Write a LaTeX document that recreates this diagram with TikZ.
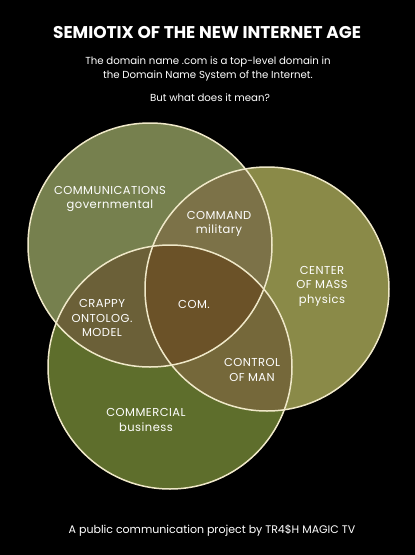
\documentclass[tikz,border=0pt]{standalone}
\usepackage{fontspec}
\setmainfont{Poppins}
\newfontfamily\spacedcaps[LetterSpace=4]{Poppins}
\usetikzlibrary{positioning}
\definecolor{govgreen}{HTML}{76804E}
\definecolor{massolive}{HTML}{8A8A48}
\definecolor{bizgreen}{HTML}{5E6E2C}
\definecolor{cmdbrown}{HTML}{7C7248}
\definecolor{manbrown}{HTML}{75683A}
\definecolor{crapbrown}{HTML}{6B6038}
\definecolor{combrown}{HTML}{6B5228}
\definecolor{ringcream}{HTML}{EFE8C8}
\tikzset{
	vennlabel/.style={
		text=white,
		align=center,
		inner sep=0pt,
		font=\spacedcaps\fontsize{11.5}{14.5}\selectfont},
	headline/.style={
		text=white,
		inner sep=0pt,
		font=\fontsize{17}{20}\selectfont\bfseries},
	blurb/.style={
		text=white,
		align=center,
		inner sep=0pt,
		font=\fontsize{10.2}{14}\selectfont},
	ring/.style={draw=ringcream, line width=1.5pt},
}
\begin{document}
\begin{tikzpicture}[x=1pt,y=-1pt]
	\fill[black] (0,0) rectangle (415,555);
	\useasboundingbox (0,0) rectangle (415,555);
	\coordinate (govc) at (150,245);
	\coordinate (massc) at (267,289);
	\coordinate (bizc) at (170,367);
	% the three sets
	\fill[govgreen] (govc) circle (122);
	\fill[massolive] (massc) circle (122);
	\fill[bizgreen] (bizc) circle (122);
	% pairwise overlaps
	\begin{scope}
		\clip (govc) circle (122);
		\fill[cmdbrown] (massc) circle (122);
	\end{scope}
	\begin{scope}
		\clip (govc) circle (122);
		\fill[crapbrown] (bizc) circle (122);
	\end{scope}
	\begin{scope}
		\clip (massc) circle (122);
		\fill[manbrown] (bizc) circle (122);
	\end{scope}
	\begin{scope}
		\clip (govc) circle (122);
		\clip (massc) circle (122);
		\fill[combrown] (bizc) circle (122);
	\end{scope}
	\draw[ring] (govc) circle (122);
	\draw[ring] (massc) circle (122);
	\draw[ring] (bizc) circle (122);

	\node[headline] (title) at (207,33) {SEMIOTIX OF THE NEW INTERNET AGE};
	\node[blurb] (intro) at (208,69) {The domain name .com is a top-level domain in\\the Domain Name System of the Internet.};
	\node[blurb] (question) at (210,98) {But what does it mean?};

	\node[vennlabel] (comms) at (110,199) {COMMUNICATIONS\\governmental};
	\node[vennlabel] (command) at (219,224) {COMMAND\\military};
	\node[vennlabel] (centermass) at (322,286) {CENTER\\OF MASS\\physics};
	\node[vennlabel] (crappy) at (102,318) {CRAPPY\\ONTOLOG.\\MODEL};
	\node[vennlabel] (com) at (194,304) {COM.};
	\node[vennlabel] (control) at (252,370) {CONTROL\\OF MAN};
	\node[vennlabel] (commercial) at (146,420) {COMMERCIAL\\business};

	\node[blurb, font=\fontsize{11}{14}\selectfont] (credit) at (212,531) {A public communication project by TR4\$H MAGIC TV};
\end{tikzpicture}
\end{document}
